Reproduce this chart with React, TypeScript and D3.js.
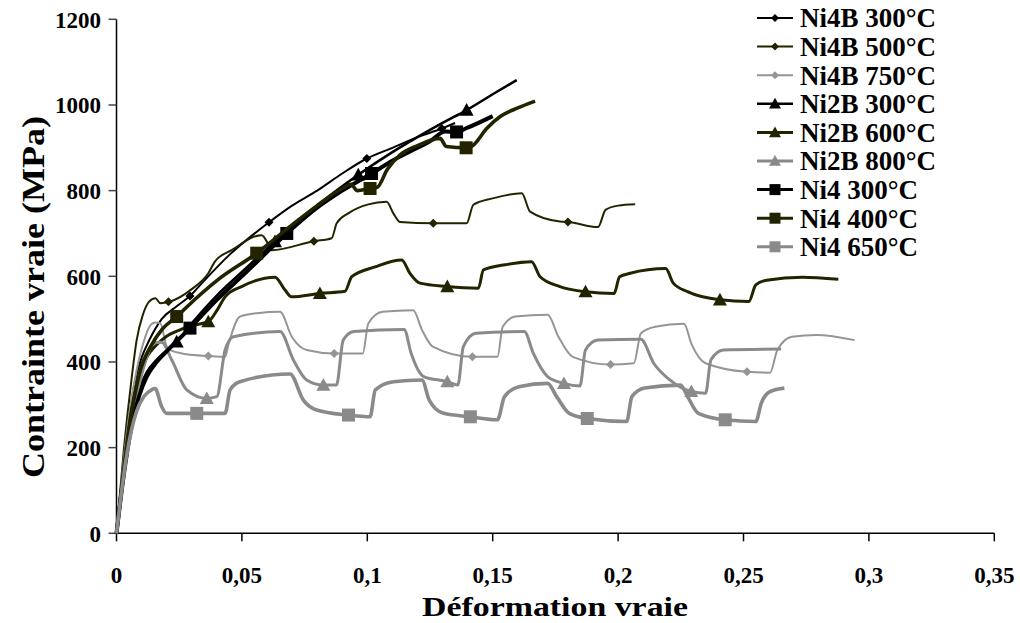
import React from "react";
import * as d3 from "d3";

type Pt = [number, number];

const xTicks = [0, 0.05, 0.1, 0.15, 0.2, 0.25, 0.3, 0.35];
const xTickLabels = ["0", "0,05", "0,1", "0,15", "0,2", "0,25", "0,3", "0,35"];
const yTicks = [0, 200, 400, 600, 800, 1000, 1200];
const yTickLabels = ["0", "200", "400", "600", "800", "1000", "1200"];

const seriesNames = [
  "Ni4B 300°C", "Ni4B 500°C", "Ni4B 750°C",
  "Ni2B 300°C", "Ni2B 600°C", "Ni2B 800°C",
  "Ni4 300°C", "Ni4 400°C", "Ni4 650°C",
];

const ni4b300: Pt[] = [[0,0],[0.002,110],[0.004,220],[0.006,310],[0.008,370],[0.010,410],[0.013,450],[0.018,500],[0.024,530],[0.0293,554],[0.035,590],[0.045,650],[0.0608,726],[0.07,765],[0.08,800],[0.09,840],[0.0998,875],[0.11,900],[0.12,925],[0.1297,945],[0.135,958]];
const ni4b500: Pt[] = [[0,0],[0.003,200],[0.006,360],[0.008,450],[0.0105,510],[0.013,541],[0.0155,549],[0.0175,537],[0.0213,541],[0.03,570],[0.0366,607],[0.0393,635],[0.0459,661],[0.0579,696],[0.0605,675],[0.0619,661],[0.0787,682],[0.0858,689],[0.0878,724],[0.0924,747],[0.1004,768],[0.1077,774],[0.1104,747],[0.113,727],[0.1263,724],[0.1396,724],[0.1423,767],[0.15,782],[0.1616,794],[0.1649,751],[0.1768,728],[0.18,727],[0.192,715],[0.195,755],[0.2,765],[0.2068,768]];
const ni4b750: Pt[] = [[0,0],[0.004,230],[0.008,380],[0.011,450],[0.0134,485],[0.0154,492],[0.0175,490],[0.020,436],[0.0213,428],[0.028,418],[0.0366,414],[0.0433,412],[0.0446,440],[0.0492,506],[0.056,514],[0.0652,517],[0.0699,459],[0.0758,428],[0.0868,420],[0.0982,420],[0.1004,490],[0.1061,517],[0.1183,521],[0.1218,475],[0.1261,436],[0.1419,412],[0.1519,412],[0.154,482],[0.159,506],[0.1719,510],[0.1762,459],[0.1819,412],[0.197,394],[0.2063,397],[0.2091,467],[0.2148,482],[0.2263,489],[0.2292,443],[0.2349,397],[0.2514,377],[0.2606,375],[0.2635,428],[0.2693,459],[0.2792,463],[0.2943,451]];
const ni2b300: Pt[] = [[0,0],[0.003,150],[0.006,270],[0.009,335],[0.012,375],[0.016,405],[0.02,427],[0.024,447],[0.03,490],[0.04,555],[0.05,610],[0.0632,681],[0.07,715],[0.08,765],[0.09,810],[0.0964,837],[0.11,890],[0.12,925],[0.13,958],[0.1396,988],[0.15,1025],[0.1596,1058]];
const ni2b600: Pt[] = [[0,0],[0.003,160],[0.006,290],[0.009,360],[0.012,410],[0.016,440],[0.02,460],[0.0253,475],[0.03,485],[0.0366,494],[0.04,520],[0.0433,552],[0.0499,576],[0.0632,598],[0.0672,568],[0.0698,552],[0.0811,560],[0.0911,565],[0.0938,599],[0.1031,622],[0.1137,638],[0.117,607],[0.121,584],[0.1317,576],[0.1443,572],[0.1463,615],[0.155,627],[0.1655,634],[0.1689,599],[0.1768,576],[0.187,564],[0.1984,560],[0.2006,599],[0.2048,607],[0.219,618],[0.222,584],[0.2277,564],[0.2406,545],[0.2521,541],[0.2549,580],[0.2592,591],[0.2735,598],[0.2878,593]];
const ni2b800: Pt[] = [[0,0],[0.004,200],[0.008,320],[0.012,410],[0.0147,444],[0.018,446],[0.022,405],[0.028,335],[0.036,315],[0.04,319],[0.0433,428],[0.0466,459],[0.0652,471],[0.0705,405],[0.0758,358],[0.0825,346],[0.0877,346],[0.0904,451],[0.0946,471],[0.1147,476],[0.1175,420],[0.1225,366],[0.1319,354],[0.1361,346],[0.1383,436],[0.1433,467],[0.1626,471],[0.1662,420],[0.1719,366],[0.1784,350],[0.1848,344],[0.187,428],[0.1919,451],[0.2091,453],[0.2142,397],[0.2206,358],[0.2292,331],[0.2349,327],[0.237,405],[0.242,428],[0.265,430]];
const ni4300: Pt[] = [[0,0],[0.003,140],[0.006,250],[0.009,320],[0.012,365],[0.016,400],[0.02,425],[0.0293,479],[0.04,545],[0.05,600],[0.0679,700],[0.08,760],[0.09,800],[0.1017,840],[0.11,870],[0.12,900],[0.125,915],[0.131,938],[0.1356,937],[0.14,947],[0.15,974]];
const ni4400: Pt[] = [[0,0],[0.003,150],[0.006,280],[0.009,370],[0.014,440],[0.018,475],[0.024,506],[0.032,550],[0.04,590],[0.0559,654],[0.07,720],[0.08,765],[0.09,805],[0.0935,815],[0.096,800],[0.1011,805],[0.104,808],[0.108,850],[0.113,883],[0.12,905],[0.129,922],[0.1315,903],[0.1394,900],[0.142,905],[0.1476,945],[0.153,973],[0.16,993],[0.1669,1009]];
const ni4650: Pt[] = [[0,0],[0.004,180],[0.008,285],[0.011,320],[0.014,335],[0.0154,338],[0.018,296],[0.02,280],[0.032,280],[0.0433,280],[0.0453,335],[0.0492,354],[0.0692,372],[0.0745,311],[0.0798,288],[0.0925,276],[0.1011,272],[0.1032,335],[0.1104,354],[0.1218,358],[0.1247,311],[0.1304,280],[0.1411,272],[0.1519,265],[0.1547,319],[0.1605,342],[0.1719,350],[0.1755,319],[0.1805,280],[0.1877,268],[0.2034,261],[0.2055,319],[0.2106,339],[0.2249,346],[0.2277,319],[0.232,280],[0.2427,265],[0.2549,261],[0.2571,304],[0.2606,331],[0.2663,339]];

const markersNi4b300 = [0.0293, 0.0608, 0.0998, 0.1297];
const markersNi4b500 = [0.0207, 0.0787, 0.1263, 0.18];
const markersNi4b750 = [0.0366, 0.0868, 0.1419, 0.197, 0.2514];
const markersNi2b300 = [0.024, 0.0632, 0.0964, 0.1396];
const markersNi2b600 = [0.0366, 0.0811, 0.1319, 0.187, 0.2406];
const markersNi2b800 = [0.036, 0.0825, 0.1319, 0.1784, 0.2292];
const markersNi4300 = [0.0293, 0.0679, 0.1017, 0.1356];
const markersNi4400 = [0.024, 0.0559, 0.1011, 0.1394];
const markersNi4650 = [0.032, 0.0925, 0.1411, 0.1877, 0.2427];

const BLACK = "#000000";
const OLIVE = "#232300";
const GRAY = "#8a8a8a";

type Style = { color: string; width: number; shape: "diamond" | "triangle" | "square" };
const styles: Style[] = [
  { color: BLACK, width: 2, shape: "diamond" },
  { color: OLIVE, width: 2, shape: "diamond" },
  { color: "#959595", width: 2, shape: "diamond" },
  { color: BLACK, width: 2.6, shape: "triangle" },
  { color: OLIVE, width: 3, shape: "triangle" },
  { color: GRAY, width: 3, shape: "triangle" },
  { color: BLACK, width: 4, shape: "square" },
  { color: OLIVE, width: 3.6, shape: "square" },
  { color: GRAY, width: 3.6, shape: "square" },
];

const allData = [ni4b300, ni4b500, ni4b750, ni2b300, ni2b600, ni2b800, ni4300, ni4400, ni4650];
const allMarkers = [markersNi4b300, markersNi4b500, markersNi4b750, markersNi2b300, markersNi2b600, markersNi2b800, markersNi4300, markersNi4400, markersNi4650];

const W = 1020, H = 623;
const x = d3.scaleLinear().domain([0, 0.35]).range([116.5, 994.3]);
const y = d3.scaleLinear().domain([0, 1200]).range([533.3, 19.3]);

function interp(data: Pt[], xv: number): number {
  const i = d3.bisector((d: Pt) => d[0]).left(data, xv);
  if (i <= 0) return data[0][1];
  if (i >= data.length) return data[data.length - 1][1];
  const a = data[i - 1], b = data[i];
  const t = (xv - a[0]) / (b[0] - a[0]);
  return a[1] + t * (b[1] - a[1]);
}

function markerPath(shape: string, cx: number, cy: number, s: number): string {
  if (shape === "diamond") {
    return `M${cx},${cy - s}L${cx + s},${cy}L${cx},${cy + s}L${cx - s},${cy}Z`;
  }
  if (shape === "triangle") {
    return `M${cx},${cy - s}L${cx + s},${cy + s * 0.8}L${cx - s},${cy + s * 0.8}Z`;
  }
  return `M${cx - s},${cy - s}h${2 * s}v${2 * s}h${-2 * s}Z`;
}

const FONT = "'Liberation Serif', 'Times New Roman', serif";

export default function App() {
  const line = d3.line<Pt>().x((d) => x(d[0])).y((d) => y(d[1])).curve(d3.curveMonotoneX);
  const markerSize = (shape: string) => (shape === "diamond" ? 4.5 : shape === "triangle" ? 7 : 6.5);
  const legendY0 = 18, legendDY = 28.6;
  return (
    <div style={{ position: "absolute", left: 0, top: 0 }}>
      <svg width={W} height={H} style={{ display: "block", background: "#fff" }} fontFamily={FONT}>
        <rect width={W} height={H} fill="#fff" />
        {/* axes */}
        <line x1={x(0)} x2={x(0)} y1={y(1200)} y2={y(0)} stroke="#000" strokeWidth={1.5} />
        <line x1={x(0)} x2={x(0.35)} y1={y(0)} y2={y(0)} stroke="#000" strokeWidth={1.5} />
        {yTicks.map((t, i) => (
          <g key={"yt" + i}>
            <line x1={x(0) - 8} x2={x(0)} y1={y(t)} y2={y(t)} stroke="#444" strokeWidth={1.5} />
            <text x={101} y={y(t)} dy="0.36em" textAnchor="end" fontWeight="bold" fontSize={23}>{yTickLabels[i]}</text>
          </g>
        ))}
        {xTicks.map((t, i) => (
          <g key={"xt" + i}>
            <line x1={x(t)} x2={x(t)} y1={y(0)} y2={y(0) + 8} stroke="#000" strokeWidth={1.5} />
            <text x={x(t)} y={583} textAnchor="middle" fontWeight="bold" fontSize={23}>{xTickLabels[i]}</text>
          </g>
        ))}
        <text x={555} y={616} textAnchor="middle" fontWeight="bold" fontSize={28} textLength={266} lengthAdjust="spacingAndGlyphs">Déformation vraie</text>
        <text transform="translate(44,297) rotate(-90)" textAnchor="middle" fontWeight="bold" fontSize={32} textLength={362} lengthAdjust="spacingAndGlyphs">Contrainte vraie (MPa)</text>
        {/* series */}
        {allData.map((data, si) => {
          const st = styles[si];
          return (
            <g key={"s" + si}>
              <path d={line(data) || ""} fill="none" stroke={st.color} strokeWidth={st.width} strokeLinejoin="round" />
              {allMarkers[si].map((mx, mi) => (
                <path key={mi} d={markerPath(st.shape, x(mx), y(interp(data, mx)), markerSize(st.shape))} fill={st.color} />
              ))}
            </g>
          );
        })}
        {/* legend */}
        {seriesNames.map((name, i) => {
          const st = styles[i];
          const ly = legendY0 + i * legendDY;
          const ms = st.shape === "diamond" ? 4 : st.shape === "triangle" ? 6 : 5.5;
          return (
            <g key={"lg" + i}>
              <line x1={757} x2={793} y1={ly} y2={ly} stroke={st.color} strokeWidth={Math.min(st.width, 3)} />
              <path d={markerPath(st.shape, 775, ly, ms)} fill={st.color} />
              <text x={800} y={ly} dy="0.35em" fontWeight="bold" fontSize={27}>{name}</text>
            </g>
          );
        })}
      </svg>
    </div>
  );
}
